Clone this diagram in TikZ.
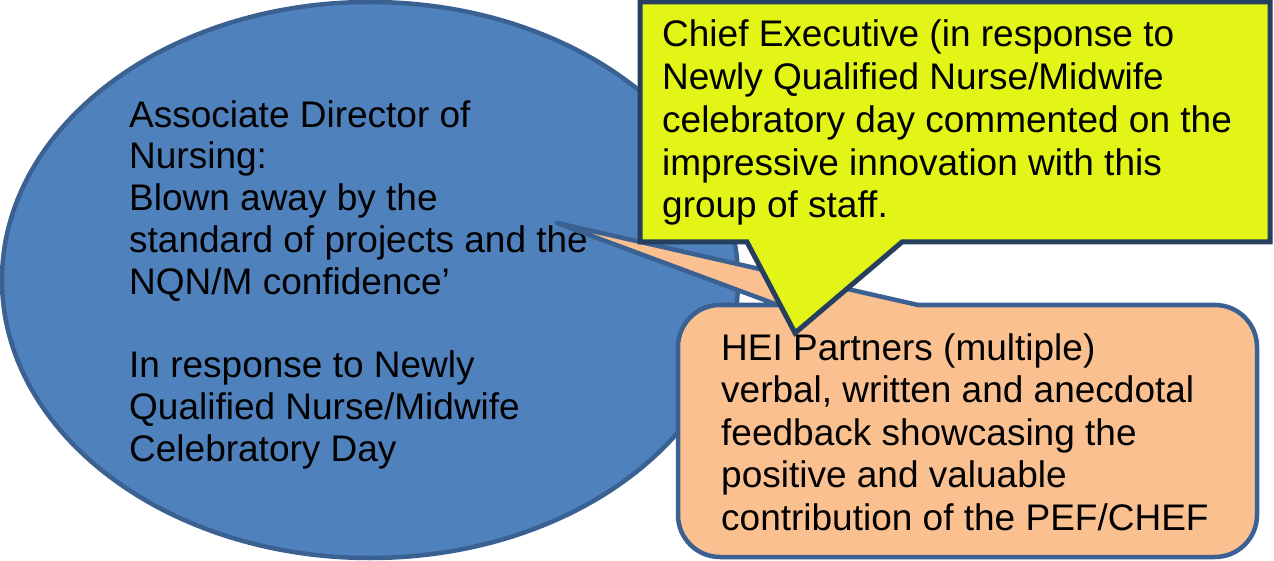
\documentclass[tikz,border=0pt]{standalone}
\usepackage{fontspec}
\setmainfont{Liberation Sans}

\definecolor{bubbleblue}{HTML}{4F81BD}
\definecolor{bubbleedge}{HTML}{3A6192}
\definecolor{calloutlime}{HTML}{E2F516}
\definecolor{calloutedge}{HTML}{263F5F}
\definecolor{calloutpeach}{HTML}{FAC090}

\tikzset{
    bubble/.style={fill=bubbleblue, draw=bubbleedge, line width=4.5pt},
    peachbox/.style={fill=calloutpeach, draw=bubbleedge, line width=4.5pt, line join=round},
    limebox/.style={fill=calloutlime, draw=calloutedge, line width=5pt, line join=miter},
    % base of a multi-line node is its last line
    quote/.style={inner sep=0pt, align=left, anchor=base west}
}

\begin{document}
\begin{tikzpicture}[x=1pt, y=-1pt]
    \useasboundingbox (0,0) rectangle (1274,561);
    \def\r{42} % corner radius of the feedback box

    % Director's speech bubble (blue)
    \draw[bubble] (370,280) ellipse [x radius=368, y radius=278];
    \node[quote, font=\fontsize{37}{41.75}\selectfont] (director) at (129,461)
        {Associate Director of\\Nursing:\\Blown away by the\\standard of projects and the\\NQN/M confidence’\\[41.75pt]In response to Newly\\Qualified Nurse/Midwife\\Celebratory Day};

    % HEI partners box with its tail into the bubble (peach)
    \coordinate (heitip) at (557,223);
    \draw[peachbox] (heitip) -- (778,305) -- (678+\r,305)
        arc [start angle=270, end angle=180, radius=\r] -- (678,557-\r)
        arc [start angle=180, end angle=90, radius=\r] -- (1257-\r,557)
        arc [start angle=90, end angle=0, radius=\r] -- (1257,305+\r)
        arc [start angle=0, end angle=-90, radius=\r] -- (918,305) -- cycle;
    \node[quote, font=\fontsize{37}{42.5}\selectfont] (partners) at (721,530)
        {HEI Partners (multiple)\\verbal, written and anecdotal\\feedback showcasing the\\positive and valuable\\contribution of the PEF/CHEF};

    % Chief Executive callout on top (lime)
    \coordinate (chieftip) at (795,333);
    \draw[limebox] (640,2) -- (1270,2) -- (1270,242) -- (902,242) -- (chieftip)
        -- (747,242) -- (640,242) -- cycle;
    \node[quote, font=\fontsize{37}{42.75}\selectfont] (chief) at (662,218)
        {Chief Executive (in response to\\Newly Qualified Nurse/Midwife\\celebratory day commented on the\\impressive innovation with this\\group of staff.};
\end{tikzpicture}
\end{document}
